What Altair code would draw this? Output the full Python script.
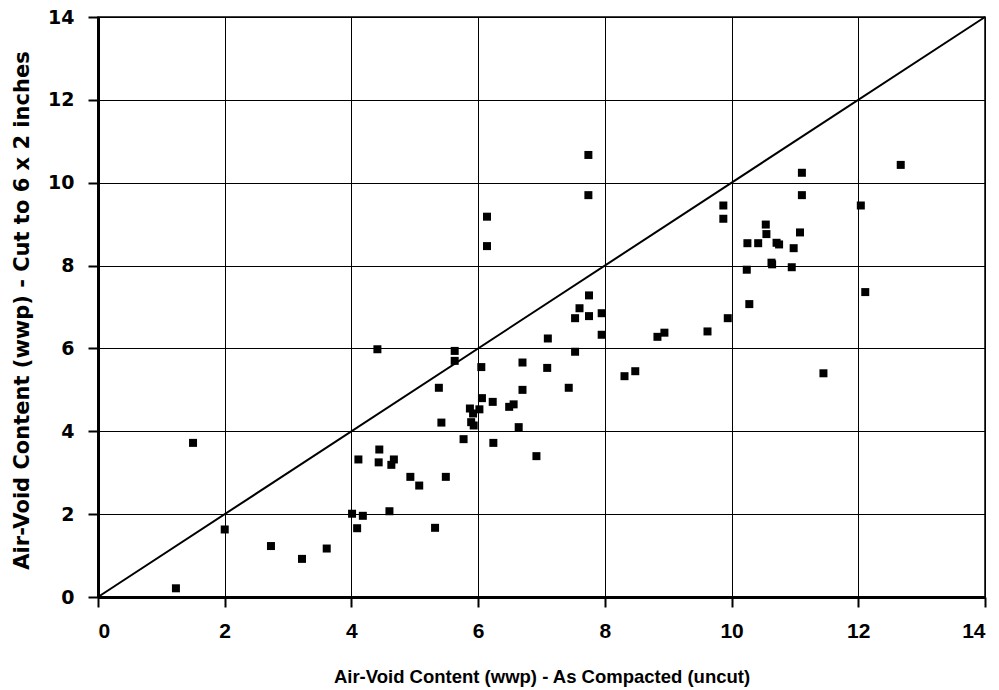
import altair as alt
import pandas as pd

uncut = [1.23, 1.50, 2.00, 2.73, 3.22, 3.61, 4.01, 4.09, 4.11, 4.18, 4.41, 4.44, 4.43, 4.60, 4.63, 4.67,
         4.93, 5.07, 5.32, 5.38, 5.42, 5.49, 5.63, 5.63, 5.77, 5.87, 5.92, 5.89, 5.93, 6.02, 6.05, 6.06,
         6.14, 6.14, 6.23, 6.24, 6.49, 6.56, 6.64, 6.70, 6.70, 6.92, 7.10, 7.09, 7.43, 7.53, 7.53, 7.60,
         7.74, 7.74, 7.75, 7.75, 7.95, 7.95, 8.31, 8.48, 8.83, 8.94, 9.62, 9.87, 9.87, 9.94, 10.24, 10.25,
         10.28, 10.42, 10.54, 10.55, 10.63, 10.64, 10.71, 10.75, 10.95, 10.98, 11.08, 11.11, 11.11, 11.45,
         12.04, 12.11, 12.67]
cut = [0.21, 3.72, 1.63, 1.23, 0.92, 1.17, 2.01, 1.66, 3.32, 1.96, 5.98, 3.56, 3.25, 2.07, 3.19, 3.32,
       2.90, 2.69, 1.67, 5.05, 4.21, 2.90, 5.94, 5.70, 3.81, 4.55, 4.43, 4.22, 4.14, 4.53, 5.55, 4.80,
       9.18, 8.47, 4.71, 3.72, 4.59, 4.65, 4.10, 5.66, 5.00, 3.40, 6.24, 5.53, 5.05, 5.92, 6.73, 6.97,
       10.67, 9.70, 7.28, 6.78, 6.85, 6.33, 5.33, 5.45, 6.28, 6.38, 6.41, 9.45, 9.13, 6.73, 7.90, 8.54,
       7.07, 8.54, 8.99, 8.76, 8.07, 8.03, 8.55, 8.51, 7.96, 8.42, 8.80, 10.24, 9.70, 5.40,
       9.45, 7.36, 10.43]
equality_x = [0, 14]
equality_y = [0, 14]
ticks = [0, 2, 4, 6, 8, 10, 12, 14]

pts = pd.DataFrame({"x": uncut, "y": cut})
diag = pd.DataFrame({"x": equality_x, "y": equality_y})

xscale = alt.Scale(domain=[0, 14], nice=False, zero=False)
yscale = alt.Scale(domain=[0, 14], nice=False, zero=False)

xaxis = alt.Axis(values=ticks, format="d", title="Air-Void Content (wwp) - As Compacted (uncut)",
                 grid=True, gridColor="black", gridWidth=1, gridOpacity=1,
                 domainColor="black", domainWidth=3, tickColor="black", tickWidth=2, tickSize=10,
                 labelFont="Liberation Sans", labelFontSize=21, labelFontWeight="bold",
                 labelColor="black", labelPadding=13,
                 titleFont="Liberation Sans", titleFontSize=18.5, titleFontWeight="bold",
                 titleColor="black", titleY=79, titleBaseline="middle")
yaxis = alt.Axis(values=ticks, format="d", title="Air-Void Content (wwp) - Cut to 6 x 2 inches",
                 grid=True, gridColor="black", gridWidth=1, gridOpacity=1,
                 domainColor="black", domainWidth=3, tickColor="black", tickWidth=2, tickSize=10,
                 labelFont="DejaVu Sans", labelFontSize=19, labelFontWeight="bold",
                 labelColor="black", labelPadding=14,
                 titleFont="DejaVu Sans", titleFontSize=21, titleFontWeight="bold",
                 titleColor="black", titleX=-76, titleY=293, titleAngle=-90,
                 titleAlign="center", titleBaseline="middle")

points = alt.Chart(pts).mark_point(shape="square", filled=True, size=64, color="black", opacity=1).encode(
    x=alt.X("x:Q", scale=xscale, axis=xaxis),
    y=alt.Y("y:Q", scale=yscale, axis=yaxis),
)
line = alt.Chart(diag).mark_line(color="black", strokeWidth=2).encode(
    x=alt.X("x:Q", scale=xscale),
    y=alt.Y("y:Q", scale=yscale),
)

chart = alt.layer(line, points).properties(
    width=887, height=580,
    padding={"left": 98, "top": 17, "right": 14, "bottom": 93},
    autosize="none",
    background="white",
).configure_view(stroke="black", strokeWidth=1.5)

chart.save("out.html", embed_options={"renderer": "svg", "actions": False})
